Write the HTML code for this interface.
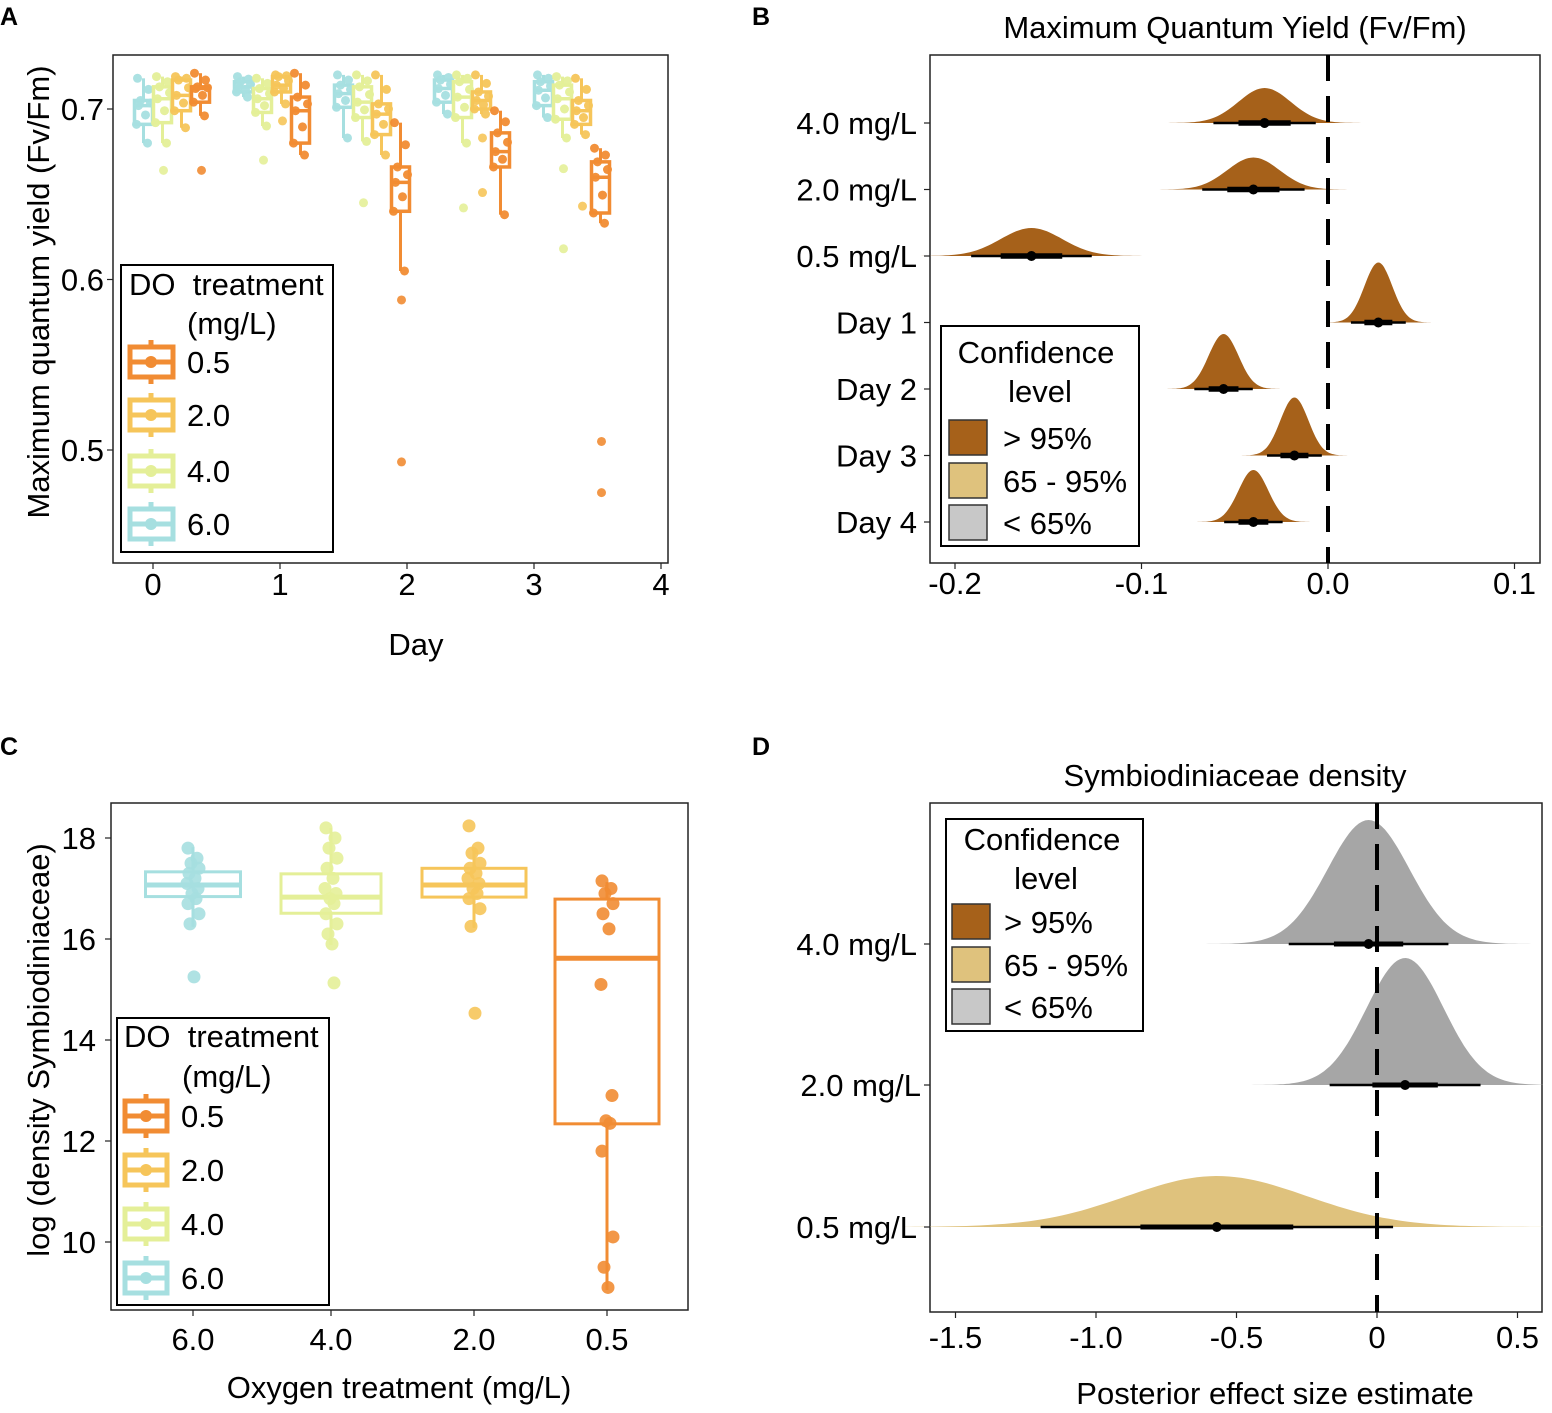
<!DOCTYPE html>
<html><head><meta charset="utf-8">
<style>
html,body{margin:0;padding:0;background:#fff;}
svg{display:block;font-family:"Liberation Sans",Arial,sans-serif;}
</style></head>
<body>
<svg id="fig" width="1552" height="1413" viewBox="0 0 1552 1413" xmlns="http://www.w3.org/2000/svg"></svg>
<script>
// ---------- Panel A data ----------
const aDays = [0,1,2,3,4];
const aTreat = ["6.0","4.0","2.0","0.5"];
// [lo, q1, median, q3, hi] per day per treatment (order cyan 6.0, yellow 4.0, gold 2.0, orange 0.5)
const aStats = [
 [[0.680,0.691,0.702,0.705,0.718],[0.680,0.692,0.706,0.713,0.719],[0.689,0.699,0.708,0.717,0.719],[0.696,0.704,0.712,0.713,0.721]],
 [[0.707,0.710,0.713,0.716,0.719],[0.690,0.698,0.706,0.712,0.718],[0.703,0.710,0.714,0.719,0.720],[0.673,0.680,0.699,0.707,0.721]],
 [[0.683,0.701,0.709,0.714,0.720],[0.681,0.695,0.704,0.713,0.720],[0.673,0.685,0.697,0.703,0.720],[0.605,0.640,0.657,0.666,0.692]],
 [[0.697,0.704,0.712,0.717,0.720],[0.680,0.695,0.707,0.716,0.720],[0.697,0.700,0.705,0.710,0.720],[0.638,0.666,0.675,0.686,0.699]],
 [[0.695,0.702,0.711,0.716,0.720],[0.683,0.694,0.706,0.714,0.719],[0.685,0.691,0.699,0.705,0.718],[0.633,0.639,0.660,0.669,0.677]]
];
const aOutliers = [
 [[],[0.664],[],[0.664]],
 [[],[0.670],[0.693],[]],
 [[],[0.645],[],[0.588,0.493]],
 [[],[0.642],[0.683,0.651],[]],
 [[],[0.665,0.618],[0.643],[0.505,0.475]]
];
const aYTicks = [0.5,0.6,0.7];
const aXTicks = ["0","1","2","3","4"];

// ---------- Panel B data ----------
const bLabels = ["4.0 mg/L","2.0 mg/L","0.5 mg/L","Day 1","Day 2","Day 3","Day 4"];
const bMeans = [-0.034,-0.040,-0.159,0.027,-0.056,-0.018,-0.040];
const bSds = [0.014,0.014,0.0165,0.0075,0.008,0.0075,0.008];
const bHeights = [35,32,28,60,55,58,52];
const bXTicks = [-0.2,-0.1,0.0,0.1];
const bXTickLabels = ["-0.2","-0.1","0.0","0.1"];

// ---------- Panel C data ----------
const cCats = ["6.0","4.0","2.0","0.5"];
const cStats = [[16.24,16.84,17.07,17.33,17.82],[15.88,16.51,16.83,17.29,18.2],[16.22,16.83,17.07,17.4,17.76],[9.05,12.34,15.62,16.79,17.13]];
const cPoints = [
 [17.8,17.6,17.5,17.4,17.3,17.2,17.1,17.0,16.9,16.8,16.7,16.5,16.3,15.25],
 [18.2,18.0,17.8,17.6,17.4,17.2,17.0,16.9,16.8,16.7,16.5,16.3,16.1,15.9,15.13],
 [18.24,17.8,17.7,17.5,17.4,17.3,17.2,17.1,17.0,16.9,16.8,16.6,16.25,14.53],
 [17.15,17.0,16.9,16.7,16.5,16.2,15.1,12.9,12.4,12.35,11.8,10.1,9.5,9.1]
];
const cYTicks = [10,12,14,16,18];

// ---------- Panel D data ----------
const dLabels = ["4.0 mg/L","2.0 mg/L","0.5 mg/L"];
const dMeans = [-0.03,0.10,-0.57];
const dSds = [0.145,0.137,0.32];
const dHeights = [124,127,51];
const dColors = ["#a6a6a6","#a6a6a6","#dfc27d"];
const dXTicks = [-1.5,-1.0,-0.5,0,0.5];
const dXTickLabels = ["-1.5","-1.0","-0.5","0","0.5"];

const colors = ["#a6dfe0","#e4ef98","#f6c55a","#f18c33"];
const FS = 31;
const NS="http://www.w3.org/2000/svg";
const svg=document.getElementById('fig');
function el(tag,attrs,parent,text){const e=document.createElementNS(NS,tag);for(const k in attrs)e.setAttribute(k,attrs[k]);if(text!==undefined)e.textContent=text;(parent||svg).appendChild(e);return e;}
function grp(name){const g=el('g',{});return g;}
function txt(g,x,y,s,size,anchor,name,extra){const t=el('text',Object.assign({x:x,y:y,'font-size':size,'text-anchor':anchor||'start',fill:'#000'},extra||{}),g,s);return t;}

// panel letters
[["A",0,25],["B",752,25],["C",0,755],["D",752,755]].forEach(p=>{txt(svg,p[1],p[2],p[0],25,'start','panel-label-'+p[0].toLowerCase(),{'font-weight':'bold'});});

// =========== Panel A ===========
(function(){
 const g=grp('panel-a');
 const y=v=>109-(v-0.7)*1705;
 const gx=d=>172+100*d;
 const tx=i=>153+127*i;
 const offs=[-28.5,-9.5,9.5,28.5], bw=18;
 const jit=[-6,5,-3,7,-5,2,-7,4];
 aDays.forEach((d,di)=>{
  aTreat.forEach((tr,ti)=>{
   const s=aStats[di][ti], cx=gx(d)+offs[ti], c=colors[ti];
   const b=el('g',{},g);
   
   
   el('line',{x1:cx,x2:cx,y1:y(s[4]),y2:y(s[3]),stroke:c,'stroke-width':3},b);
   el('line',{x1:cx,x2:cx,y1:y(s[1]),y2:y(s[0]),stroke:c,'stroke-width':3},b);
   el('rect',{x:cx-bw/2,y:y(s[3]),width:bw,height:y(s[1])-y(s[3]),fill:'none',stroke:c,'stroke-width':3.5},b);
   el('line',{x1:cx-bw/2,x2:cx+bw/2,y1:y(s[2]),y2:y(s[2]),stroke:c,'stroke-width':3.5},b);
   const pts=[s[4],(s[4]+s[3])/2,s[3],(s[3]+s[2])/2,s[2],(s[2]+s[1])/2,s[1],s[0]];
   pts.forEach((v,k)=>{const p=el('circle',{cx:cx+jit[k],cy:y(v),r:4.5,fill:c,'fill-opacity':0.95},b);});
   aOutliers[di][ti].forEach(v=>{const p=el('circle',{cx:cx+1,cy:y(v),r:4.5,fill:c,'fill-opacity':0.9},b);});
  });
 });
 el('rect',{x:113,y:55,width:555,height:508,fill:'none',stroke:'#222','stroke-width':1.5},g);
 aYTicks.forEach(v=>{el('line',{x1:107,x2:113,y1:y(v),y2:y(v),stroke:'#222','stroke-width':1.2},g);txt(g,104,y(v)+11,v.toFixed(1),FS,'end','y-tick-label');});
 aXTicks.forEach((s,i)=>{el('line',{x1:tx(i),x2:tx(i),y1:563,y2:569,stroke:'#222','stroke-width':1.2},g);txt(g,tx(i),595,s,FS,'middle','x-tick-label');});
 txt(g,416,655,'Day',FS,'middle','x-axis-title');
 txt(g,49,292,'Maximum quantum yield (Fv/Fm)',FS,'middle','y-axis-title',{transform:'rotate(-90 49 292)'});
 const L=grp('legend-a'); g.appendChild(L);
 el('rect',{x:121,y:265,width:212,height:287,fill:'#fff',stroke:'#000','stroke-width':2},L);
 txt(L,129,295,'DO\u00a0 treatment',FS,'start','legend-title');
 txt(L,187,334,'(mg/L)',FS,'start','legend-title-unit');
 ["0.5","2.0","4.0","6.0"].forEach((s,i)=>{const yy=[362,415,471,524][i];const c=colors[3-i];
  const k=el('g',{},L);
  el('line',{x1:151,x2:151,y1:yy-22,y2:yy+22,stroke:c,'stroke-width':5},k);
  el('rect',{x:130,y:yy-15,width:43,height:30,fill:'#fff',stroke:c,'stroke-width':5},k);
  el('line',{x1:130,x2:173,y1:yy,y2:yy,stroke:c,'stroke-width':5},k);
  el('circle',{cx:151,cy:yy,r:6,fill:c},k);
  txt(k,187,yy+11,s,FS,'start','legend-label');});
})();

// =========== Panel B ===========
(function(){
 const g=grp('panel-b');
 const x=v=>1328+v*1865;
 const ry=i=>123+i*66.5;
 txt(g,1235,38,'Maximum Quantum Yield (Fv/Fm)',FS,'middle','chart-title');
 el('rect',{x:930,y:55,width:610,height:508,fill:'#fff',stroke:'#222','stroke-width':1.5},g);
 bLabels.forEach((lab,i)=>{
  const m=bMeans[i],sd=bSds[i],h=bHeights[i],by=ry(i);
  let d='M'+x(m-4*sd)+','+by;
  for(let k=0;k<=80;k++){const v=m-4*sd+k*8*sd/80;const z=(v-m)/sd;d+=' L'+x(v).toFixed(1)+','+(by-h*Math.exp(-z*z/2)).toFixed(1);}
  d+=' Z';
  const s=el('path',{d:d,fill:'#a6611a'},g);
  el('line',{x1:x(m-1.96*sd),x2:x(m+1.96*sd),y1:by,y2:by,stroke:'#000','stroke-width':2.5},g);
  el('line',{x1:x(m-sd),x2:x(m+sd),y1:by,y2:by,stroke:'#000','stroke-width':5.5},g);
  el('circle',{cx:x(m),cy:by,r:5,fill:'#000'},g);
  el('line',{x1:924,x2:930,y1:by,y2:by,stroke:'#222','stroke-width':1.2},g);
  txt(g,917,by+11,lab,FS,'end','y-tick-label');
 });
 el('line',{x1:x(0),x2:x(0),y1:55,y2:563,stroke:'#000','stroke-width':4,'stroke-dasharray':'26 15'},g);
 bXTicks.forEach((v,i)=>{el('line',{x1:x(v),x2:x(v),y1:563,y2:569,stroke:'#222','stroke-width':1.2},g);txt(g,x(v),594,bXTickLabels[i],FS,'middle','x-tick-label');});
 const L=grp('legend-b');g.appendChild(L);
 el('rect',{x:941,y:326,width:198,height:220,fill:'#fff',stroke:'#000','stroke-width':2},L);
 txt(L,1036,363,'Confidence',FS,'middle','legend-title');
 txt(L,1040,402,'level',FS,'middle','legend-title-2');
 [["> 95%","#a6611a"],["65 - 95%","#dfc27d"],["< 65%","#c8c8c8"]].forEach((e,i)=>{const yy=[420,463,505][i];
  const k=el('g',{},L);
  el('rect',{x:949,y:yy,width:38,height:35,fill:e[1],stroke:'#333','stroke-width':1.5},k);
  txt(k,1003,yy+29,e[0],FS,'start','legend-label');});
})();

// =========== Panel C ===========
(function(){
 const g=grp('panel-c');
 const y=v=>838-(v-18)*50.5;
 const cx=[193,331,474,607], bw=[95,100,104,104];
 const jit=[-5,4,-2,6,-4,2,-6,5,-1,3,-5,6,-3,1,3];
 cCats.forEach((cat,i)=>{
  const s=cStats[i],c=colors[i],x=cx[i],w=bw[i];
  const b=el('g',{},g);
  el('line',{x1:x,x2:x,y1:y(s[4]),y2:y(s[3]),stroke:c,'stroke-width':3},b);
  el('line',{x1:x,x2:x,y1:y(s[1]),y2:y(s[0]),stroke:c,'stroke-width':3},b);
  el('rect',{x:x-w/2,y:y(s[3]),width:w,height:y(s[1])-y(s[3]),fill:'none',stroke:c,'stroke-width':3},b);
  el('line',{x1:x-w/2,x2:x+w/2,y1:y(s[2]),y2:y(s[2]),stroke:c,'stroke-width':5},b);
  cPoints[i].forEach((v,k)=>{const p=el('circle',{cx:x+jit[k%jit.length],cy:y(v),r:6.5,fill:c,'fill-opacity':0.9},b);});
  el('line',{x1:x,x2:x,y1:1310,y2:1316,stroke:'#222','stroke-width':1.2},g);
  txt(g,x,1350,cat,FS,'middle','x-tick-label');
 });
 el('rect',{x:111,y:803,width:577,height:507,fill:'none',stroke:'#222','stroke-width':1.5},g);
 cYTicks.forEach(v=>{el('line',{x1:105,x2:111,y1:y(v),y2:y(v),stroke:'#222','stroke-width':1.2},g);txt(g,96,y(v)+11,String(v),FS,'end','y-tick-label');});
 txt(g,399,1398,'Oxygen treatment (mg/L)',FS,'middle','x-axis-title');
 txt(g,49,1050,'log (density Symbiodiniaceae)',FS,'middle','y-axis-title',{transform:'rotate(-90 49 1050)'});
 const L=grp('legend-c');g.appendChild(L);
 el('rect',{x:117,y:1018,width:212,height:287,fill:'#fff',stroke:'#000','stroke-width':2},L);
 txt(L,124,1047,'DO\u00a0 treatment',FS,'start','legend-title');
 txt(L,182,1087,'(mg/L)',FS,'start','legend-title-unit');
 ["0.5","2.0","4.0","6.0"].forEach((s,i)=>{const yy=[1116,1170,1224,1278][i];const c=colors[3-i];
  const k=el('g',{},L);
  el('line',{x1:146,x2:146,y1:yy-22,y2:yy+22,stroke:c,'stroke-width':5},k);
  el('rect',{x:125,y:yy-15,width:42,height:30,fill:'#fff',stroke:c,'stroke-width':5},k);
  el('line',{x1:125,x2:167,y1:yy,y2:yy,stroke:c,'stroke-width':5},k);
  el('circle',{cx:146,cy:yy,r:6,fill:c},k);
  txt(k,181,yy+11,s,FS,'start','legend-label');});
})();

// =========== Panel D ===========
(function(){
 const g=grp('panel-d');
 const x=v=>1377+v*281;
 const ry=[944,1085,1227];
 txt(g,1235,786,'Symbiodiniaceae density',FS,'middle','chart-title');
 el('rect',{x:930,y:803,width:612,height:509,fill:'#fff',stroke:'#222','stroke-width':1.5},g);
 dLabels.forEach((lab,i)=>{
  const m=dMeans[i],sd=dSds[i],h=dHeights[i],by=ry[i];
  const lo=Math.max(m-4*sd,-1.69),hi=Math.min(m+4*sd,0.59);
  let d='M'+x(lo)+','+by;
  for(let k=0;k<=100;k++){const v=lo+k*(hi-lo)/100;const z=(v-m)/sd;d+=' L'+x(v).toFixed(1)+','+(by-h*Math.exp(-z*z/2)).toFixed(1);}
  d+=' L'+x(hi)+','+by+' Z';
  const s=el('path',{d:d,fill:dColors[i]},g);
  el('line',{x1:x(m-1.96*sd),x2:x(m+1.96*sd),y1:by,y2:by,stroke:'#000','stroke-width':2.5},g);
  el('line',{x1:x(m-0.85*sd),x2:x(m+0.85*sd),y1:by,y2:by,stroke:'#000','stroke-width':5},g);
  el('circle',{cx:x(m),cy:by,r:5,fill:'#000'},g);
  el('line',{x1:924,x2:930,y1:by,y2:by,stroke:'#222','stroke-width':1.2},g);
  txt(g,i==1?921:917,by+11,lab,FS,'end','y-tick-label');
 });
 el('line',{x1:x(0),x2:x(0),y1:803,y2:1312,stroke:'#000','stroke-width':4,'stroke-dasharray':'26 15'},g);
 dXTicks.forEach((v,i)=>{el('line',{x1:x(v),x2:x(v),y1:1312,y2:1318,stroke:'#222','stroke-width':1.2},g);txt(g,x(v),1348,dXTickLabels[i],FS,'middle','x-tick-label');});
 txt(g,1275,1404,'Posterior effect size estimate',FS,'middle','x-axis-title');
 const L=grp('legend-d');g.appendChild(L);
 el('rect',{x:946,y:819,width:197,height:212,fill:'#fff',stroke:'#000','stroke-width':2},L);
 txt(L,1042,850,'Confidence',FS,'middle','legend-title');
 txt(L,1046,889,'level',FS,'middle','legend-title-2');
 [["> 95%","#a6611a"],["65 - 95%","#dfc27d"],["< 65%","#c8c8c8"]].forEach((e,i)=>{const yy=[904,947,989][i];
  const k=el('g',{},L);
  el('rect',{x:952,y:yy,width:38,height:35,fill:e[1],stroke:'#333','stroke-width':1.5},k);
  txt(k,1004,yy+29,e[0],FS,'start','legend-label');});
})();
</script>
</body></html>
